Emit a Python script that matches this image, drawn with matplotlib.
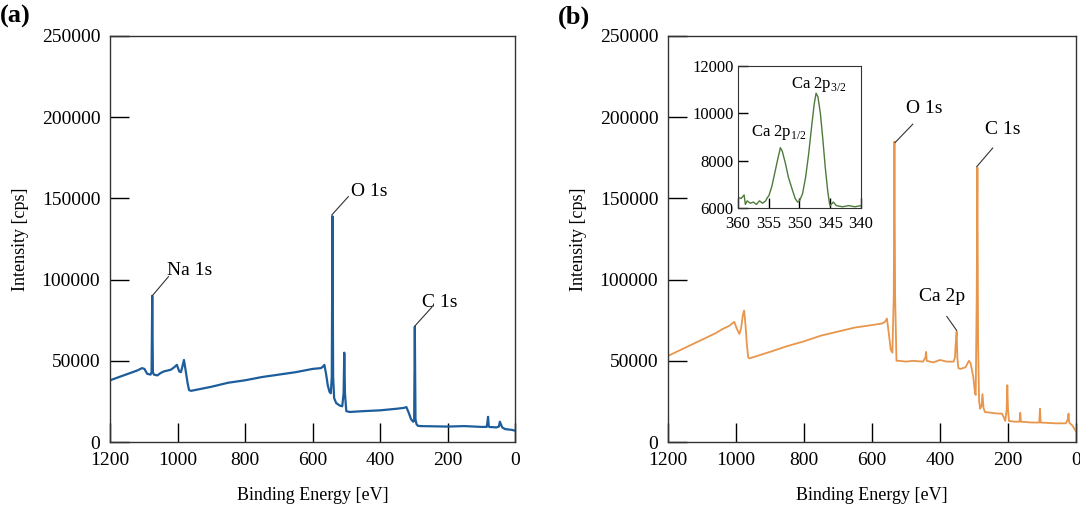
import matplotlib
matplotlib.use('Agg')
import matplotlib.pyplot as plt

plt.rcParams['font.family'] = ['Liberation Serif', 'DejaVu Serif']
plt.rcParams['mathtext.fontset'] = 'custom'
plt.rcParams['mathtext.rm'] = 'Liberation Serif'

# (a) survey spectrum
be_a = [1200, 1180, 1160, 1140, 1120, 1105, 1098, 1090, 1080, 1077, 1075, 1073, 1070, 1060,
        1050, 1040, 1030, 1020, 1010, 1002, 995, 990, 985, 981, 976, 970, 966, 960, 900, 850,
        800, 750, 700, 650, 600, 575, 569, 565, 560, 555, 550, 546, 543, 541, 539, 536, 530,
        520, 512, 508, 506, 504, 500, 490, 450, 400, 350, 330, 322, 315, 308, 302, 299, 297,
        295, 292, 288, 280, 200, 150, 100, 84, 82, 80, 78, 76, 70, 55, 48, 45, 42, 38, 30, 20,
        10, 0]
int_a = [38000, 39500, 41000, 42500, 44000, 45500, 45000, 42000, 41500, 43000, 90000, 43000,
         41500, 41000, 42500, 43500, 44000, 44500, 46000, 47500, 43500, 43000, 47000, 50500,
         44000, 36000, 32000, 31500, 34000, 36500, 38000, 40000, 41500, 43000, 45000, 45500,
         46500, 47500, 42000, 35000, 31000, 30000, 40000, 139000, 40000, 27000, 24000, 22500,
         22000, 30000, 55000, 30000, 19000, 18500, 19000, 19500, 20500, 21000, 21500, 18000,
         14000, 12500, 13000, 71000, 14000, 11000, 10000, 9800, 9500, 9800, 9300, 9300, 12000,
         15500, 10000, 9200, 9200, 9000, 9500, 12500, 11000, 9000, 8000, 7700, 7500, 7000]

# (b) survey spectrum
be_b = [1200, 1180, 1160, 1140, 1120, 1100, 1080, 1060, 1040, 1020, 1005, 998, 990, 985, 980,
        976, 972, 968, 964, 960, 900, 850, 800, 750, 700, 650, 600, 570, 562, 556, 550, 545,
        540, 536, 534, 532, 528, 520, 500, 480, 450, 443, 441, 439, 420, 400, 380, 360, 356,
        354, 351, 349, 346, 340, 325, 315, 310, 302, 297, 295, 292, 290, 288, 285, 282, 278,
        275, 272, 268, 250, 230, 218, 212, 208, 204, 202, 200, 197, 180, 166, 164, 162, 130,
        108, 106, 104, 60, 30, 24, 22, 20, 10, 0]
int_b = [53000, 55000, 57000, 59000, 61000, 63000, 65000, 67000, 69500, 71500, 74000, 70000,
         66500, 70000, 78000, 81000, 72000, 60000, 52000, 51500, 55500, 59000, 62000, 65500,
         68000, 70500, 72000, 73000, 74000, 76000, 66000, 57000, 55000, 90000, 185000, 90000,
         50000, 50000, 49500, 50000, 49500, 52000, 55500, 50000, 49000, 50500, 49500, 49500,
         52000, 60000, 68000, 52000, 45500, 45000, 46000, 50000, 48500, 40000, 30000, 29000,
         90000, 169000, 60000, 25000, 20500, 22000, 29500, 21000, 18500, 18000, 17500, 17500,
         15000, 13000, 20000, 35000, 20000, 13000, 12500, 12500, 18000, 12500, 12000, 12000,
         20500, 12000, 11500, 11500, 14000, 17500, 12000, 10000, 6500]

# inset: Ca 2p region
be_ca = [360, 359.5, 359, 358.8, 358.5, 358, 357.5, 357, 356.5, 356, 355.5, 355.2, 355, 354.5,
         354, 353.5, 353.1, 352.8, 352.3, 351.8, 351.2, 350.7, 350.3, 350, 349.5, 349, 348.5,
         348, 347.6, 347.3, 347, 346.6, 346.2, 345.8, 345.4, 345.1, 345, 344.5, 344, 343, 342,
         341, 340]
int_ca = [6450, 6400, 6550, 6150, 6300, 6200, 6250, 6150, 6300, 6200, 6300, 6450, 6500, 6900,
          7500, 8100, 8550, 8400, 7900, 7300, 6800, 6400, 6250, 6300, 6600, 7300, 8300, 9500,
          10400, 10850, 10700, 10000, 8900, 7700, 6700, 6150, 6100, 6250, 6100, 6050, 6100,
          6050, 6100]

col_a = '#1d5d9b'
col_b = '#e8964c'
col_ca = '#4e7a3c'

fig = plt.figure(figsize=(10.8, 5.12), dpi=100)
ax1 = fig.add_axes([0.1019, 0.1367, 0.375, 0.793])
ax2 = fig.add_axes([0.6185, 0.1367, 0.3778, 0.793])
axin = fig.add_axes([0.6833, 0.5938, 0.1139, 0.2773])

ax1.plot(be_a, int_a, color=col_a, linewidth=1.6)
ax2.plot(be_b, int_b, color=col_b, linewidth=1.3)
axin.plot(be_ca, int_ca, color=col_ca, linewidth=1.0)

for ax in (ax1, ax2):
    ax.set_xlim(1200, 0)
    ax.set_ylim(0, 250000)
    ax.set_xticks([1200, 1000, 800, 600, 400, 200, 0])
    ax.set_yticks([0, 50000, 100000, 150000, 200000, 250000])
    ax.tick_params(direction='in', length=14, width=1, labelsize=14, pad=7,
                   top=False, right=False)
    ax.set_xlabel('Binding Energy [eV]', fontsize=13, labelpad=13)
    ax.set_ylabel('Intensity [cps]', fontsize=13, labelpad=9)
    for s in ax.spines.values():
        s.set_color('#333333')
        s.set_linewidth(1)

axin.set_xlim(360, 340)
axin.set_ylim(6000, 12000)
axin.set_xticks([360, 355, 350, 345, 340])
axin.set_yticks([6000, 8000, 10000, 12000])
axin.tick_params(direction='in', length=7, width=1, labelsize=12)
axin.tick_params(axis='x', pad=6)
axin.tick_params(axis='y', pad=3)
for s in axin.spines.values():
    s.set_color('#333333')

# peak labels with leader lines
def label(ax, txt, peak, end, pos, size=14):
    ax.plot([peak[0], end[0]], [peak[1], end[1]], color='#333333', linewidth=0.8)
    ax.text(pos[0], pos[1], txt, fontsize=size, ha='left', va='center')

label(ax1, 'Na 1s', (1075, 90000), (1027, 101800), (1030, 105500))
label(ax1, 'O 1s', (543, 139800), (494, 151100), (487, 154100))
label(ax1, 'C 1s', (297, 71400), (247, 82900), (275, 85800))

label(ax2, 'O 1s', (532, 184400), (480, 195700), (500, 205500))
label(ax2, 'C 1s', (292, 169500), (245, 181000), (268, 192600))
label(ax2, 'Ca 2p', (351, 68700), (380, 77300), (461, 89600))

axin.text(357.9, 9180, 'Ca 2p$_{1/2}$', fontsize=12, ha='left', va='center')
axin.text(351.4, 11220, 'Ca 2p$_{3/2}$', fontsize=12, ha='left', va='center')

fig.text(0.0, 0.967, '(a)', fontsize=19, fontweight='bold', ha='left', va='center')
fig.text(0.517, 0.967, '(b)', fontsize=19, fontweight='bold', ha='left', va='center')

fig.savefig('out.png', dpi=100)
